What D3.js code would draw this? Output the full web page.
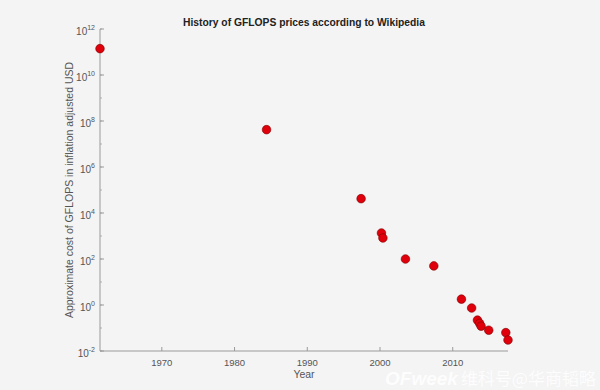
<!DOCTYPE html>
<html>
<head>
<meta charset="utf-8">
<script src="https://cdn.jsdelivr.net/npm/d3@7"></script>
<style>
  body { margin: 0; background: #f4f4f4; }
  svg { display: block; font-family: "Liberation Sans", Arial, sans-serif; }
</style>
</head>
<body>
<svg width="600" height="390"></svg>
<script>
// GFLOPS price history (inflation adjusted USD)
var years = [1961.5, 1984.4, 1997.4, 2000.2, 2000.4, 2003.5, 2007.4, 2011.2, 2012.6, 2013.4, 2013.7, 2013.9, 2014.95, 2017.3, 2017.6];
var costs = [1.4e11, 4.2e7, 4.2e4, 1.35e3, 8.2e2, 100, 50, 1.8, 0.74, 0.22, 0.16, 0.12, 0.08, 0.063, 0.03];

var xTicks = [1970, 1980, 1990, 2000, 2010];
var yTickExps = [-2, 0, 2, 4, 6, 8, 10, 12];

var svg = d3.select("svg");
var axisColor = "#9a9a9a", labelColor = "#555";

var x = d3.scaleLinear().domain([1961.5, 2017.6]).range([100, 508]);
var y = d3.scaleLog().domain([1e-2, 1e12]).range([351, 29]);

// axes lines
svg.append("line")
    .attr("x1", x.range()[0]).attr("x2", x.range()[1])
    .attr("y1", y(1e-2)).attr("y2", y(1e-2))
    .attr("stroke", axisColor).attr("stroke-width", 1);
svg.append("line")
    .attr("x1", x.range()[0]).attr("x2", x.range()[0])
    .attr("y1", y(1e-2)).attr("y2", y(1e12))
    .attr("stroke", axisColor).attr("stroke-width", 1);

// x ticks (inward)
var xg = svg.append("g");
xg.selectAll("line").data(xTicks).enter().append("line")
    .attr("x1", function(d) { return x(d); }).attr("x2", function(d) { return x(d); })
    .attr("y1", y(1e-2)).attr("y2", y(1e-2) - 4)
    .attr("stroke", axisColor);
xg.selectAll("text").data(xTicks).enter().append("text")
    .attr("x", function(d) { return x(d); })
    .attr("y", y(1e-2) + 15)
    .attr("text-anchor", "middle")
    .attr("font-size", 9.5)
    .attr("fill", labelColor)
    .text(function(d) { return d; });

// y minor ticks from the log scale, majors from the exponent list
var yg = svg.append("g");
yg.selectAll("line.minor").data(y.ticks()).enter().append("line")
    .attr("class", "minor")
    .attr("x1", x.range()[0]).attr("x2", x.range()[0] + 2)
    .attr("y1", function(d) { return y(d); }).attr("y2", function(d) { return y(d); })
    .attr("stroke", axisColor).attr("stroke-width", 0.7);
yg.selectAll("line.major").data(yTickExps).enter().append("line")
    .attr("class", "major")
    .attr("x1", x.range()[0]).attr("x2", x.range()[0] + 4)
    .attr("y1", function(d) { return y(Math.pow(10, d)); }).attr("y2", function(d) { return y(Math.pow(10, d)); })
    .attr("stroke", axisColor);
var yl = yg.selectAll("text").data(yTickExps).enter().append("text")
    .attr("x", x.range()[0] - 5)
    .attr("y", function(d) { return y(Math.pow(10, d)) + 6; })
    .attr("text-anchor", "end")
    .attr("font-size", 10)
    .attr("fill", labelColor);
yl.append("tspan").text("10");
yl.append("tspan")
    .attr("dy", -5)
    .attr("font-size", 7)
    .text(function(d) { return d; });

// points
svg.append("g").selectAll("circle")
    .data(years.map(function(yr, i) { return {year: yr, cost: costs[i]}; }))
    .enter().append("circle")
    .attr("cx", function(d) { return x(d.year); })
    .attr("cy", function(d) { return y(d.cost); })
    .attr("r", 4.3)
    .attr("fill", "#e0000b")
    .attr("stroke", "#7a0000")
    .attr("stroke-width", 0.6);

// title and axis labels
svg.append("text")
    .attr("x", 304).attr("y", 26)
    .attr("text-anchor", "middle")
    .attr("font-size", 10.3).attr("font-weight", "bold")
    .attr("fill", "#222")
    .text("History of GFLOPS prices according to Wikipedia");

svg.append("text")
    .attr("x", 304).attr("y", 378)
    .attr("text-anchor", "middle")
    .attr("font-size", 10.5)
    .attr("fill", labelColor)
    .text("Year");

svg.append("text")
    .attr("transform", "translate(73," + ((y(1e-2) + y(1e12)) / 2) + ") rotate(-90)")
    .attr("text-anchor", "middle")
    .attr("font-size", 10.5)
    .attr("fill", labelColor)
    .text("Approximate cost of GFLOPS in inflation adjusted USD");

// watermark
var wm = svg.append("text")
    .attr("x", 385).attr("y", 385)
    .attr("fill", "#ffffff").attr("opacity", 0.85);
wm.append("tspan")
    .attr("font-size", 19).attr("font-weight", "bold").attr("font-style", "italic")
    .text("OFweek");
wm.append("tspan")
    .attr("dx", 3)
    .attr("font-size", 17)
    .attr("font-family", "Noto Sans CJK SC")
    .text("维科号@华商韬略");
</script>
</body>
</html>
